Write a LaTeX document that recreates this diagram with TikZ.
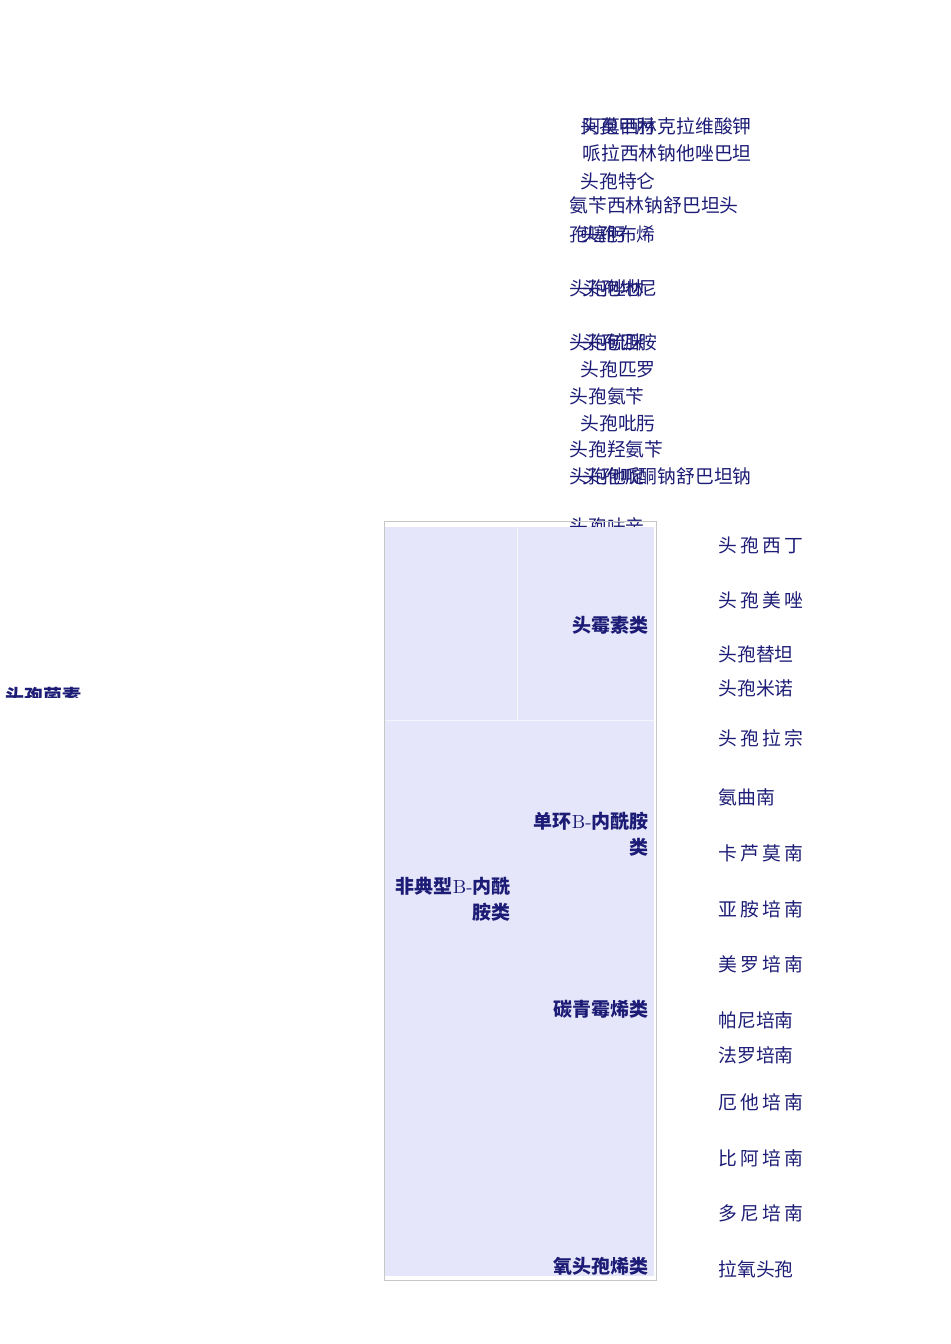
\documentclass[tikz,border=0pt]{standalone}
\usepackage{fontspec}
\newfontfamily\cjk{Noto Sans CJK SC}
\definecolor{inkblue}{RGB}{28,28,118}
\definecolor{panel}{RGB}{230,230,250}
\tikzset{
  drug/.style={anchor=west, inner sep=0pt, text=inkblue, font=\cjk\fontsize{9.4}{11}\selectfont},
  group/.style={anchor=north east, inner sep=0pt, align=right, text=inkblue, font=\cjk\bfseries\fontsize{9.5}{13}\selectfont}
}
\newcommand{\gap}{\hspace{1.6pt}}
\begin{document}
\begin{tikzpicture}[x=0.5pt,y=-0.5pt]
			\useasboundingbox (0,0) rectangle (950,1344);
			% upper list, texts laid over one another
			\node[drug] (amx) at (582,126) {阿莫西林克拉维酸钾};
			\node[drug] (cmx) at (580,126) {头孢甲肟};
			\node[drug] (pip) at (582,153) {哌拉西林钠他唑巴坦};
			\node[drug] (cft) at (580,181) {头孢特仑};
			\node[drug] (amp) at (569,205) {氨苄西林钠舒巴坦头};
			\node[drug] (ctx) at (569,234) {孢噻肟};
			\node[drug] (ctb) at (580,234) {头孢布烯};
			\node[drug] (cfz) at (569,288) {头孢唑林};
			\node[drug] (cdn) at (582,288) {头孢地尼};
			\node[drug] (csl) at (569,342) {头孢硫脒};
			\node[drug] (cpm) at (582,342) {头孢匹胺};
			\node[drug] (cpr) at (580,369) {头孢匹罗};
			\node[drug] (cfx) at (569,396) {头孢氨苄};
			\node[drug] (cfp) at (580,423) {头孢吡肟};
			\node[drug] (cfd) at (569,449) {头孢羟氨苄};
			\node[drug] (caz) at (569,476) {头孢他啶};
			\node[drug] (cps) at (582,476) {头孢哌酮钠舒巴坦钠};
			\node[drug] (cxm) at (569,526) {头孢呋辛};
			% panel
			\draw[black!22] (384,521) rectangle (656,1280);
			\fill[panel] (385,527) rectangle (654,1276);
			\draw[black!3] (517,527) -- (517,720);
			\draw[white!55!panel] (385,720) -- (654,720);
			% left label, cut at its foot
			\begin{scope}
				\clip (0,670) rectangle (120,697);
				\node[group, anchor=west] (ceph) at (5,696) {头孢菌素};
			\end{scope}
			% groups
			\node[group] (cephamycin) at (649,616) {头霉素类};
			\node[group] (mono) at (649,812) {单环{\normalfont\mdseries B-}内酰胺\\类};
			\node[group] (atyp) at (511,877) {非典型{\normalfont\mdseries B-}内酰\\胺类};
			\node[group] (carba) at (649,1000) {碳青霉烯类};
			\node[group] (oxa) at (649,1257) {氧头孢烯类};
			% right list
			\node[drug] (cxt) at (718,545) {头\gap 孢\gap 西\gap 丁};
			\node[drug] (cmz) at (718,600) {头\gap 孢\gap 美\gap 唑};
			\node[drug] (ctt) at (718,654) {头孢替坦};
			\node[drug] (cmn) at (718,688) {头孢米诺};
			\node[drug] (cfl) at (718,738) {头\gap 孢\gap 拉\gap 宗};
			\node[drug] (atm) at (718,797) {氨曲南};
			\node[drug] (crm) at (718,853) {卡\gap 芦\gap 莫\gap 南};
			\node[drug] (ipm) at (718,909) {亚\gap 胺\gap 培\gap 南};
			\node[drug] (mem) at (718,964) {美\gap 罗\gap 培\gap 南};
			\node[drug] (pam) at (718,1020) {帕尼培南};
			\node[drug] (frp) at (718,1055) {法罗培南};
			\node[drug] (etp) at (718,1102) {厄\gap 他\gap 培\gap 南};
			\node[drug] (bip) at (718,1158) {比\gap 阿\gap 培\gap 南};
			\node[drug] (dor) at (718,1213) {多\gap 尼\gap 培\gap 南};
			\node[drug] (lmx) at (718,1269) {拉氧头孢};
\end{tikzpicture}
\end{document}
